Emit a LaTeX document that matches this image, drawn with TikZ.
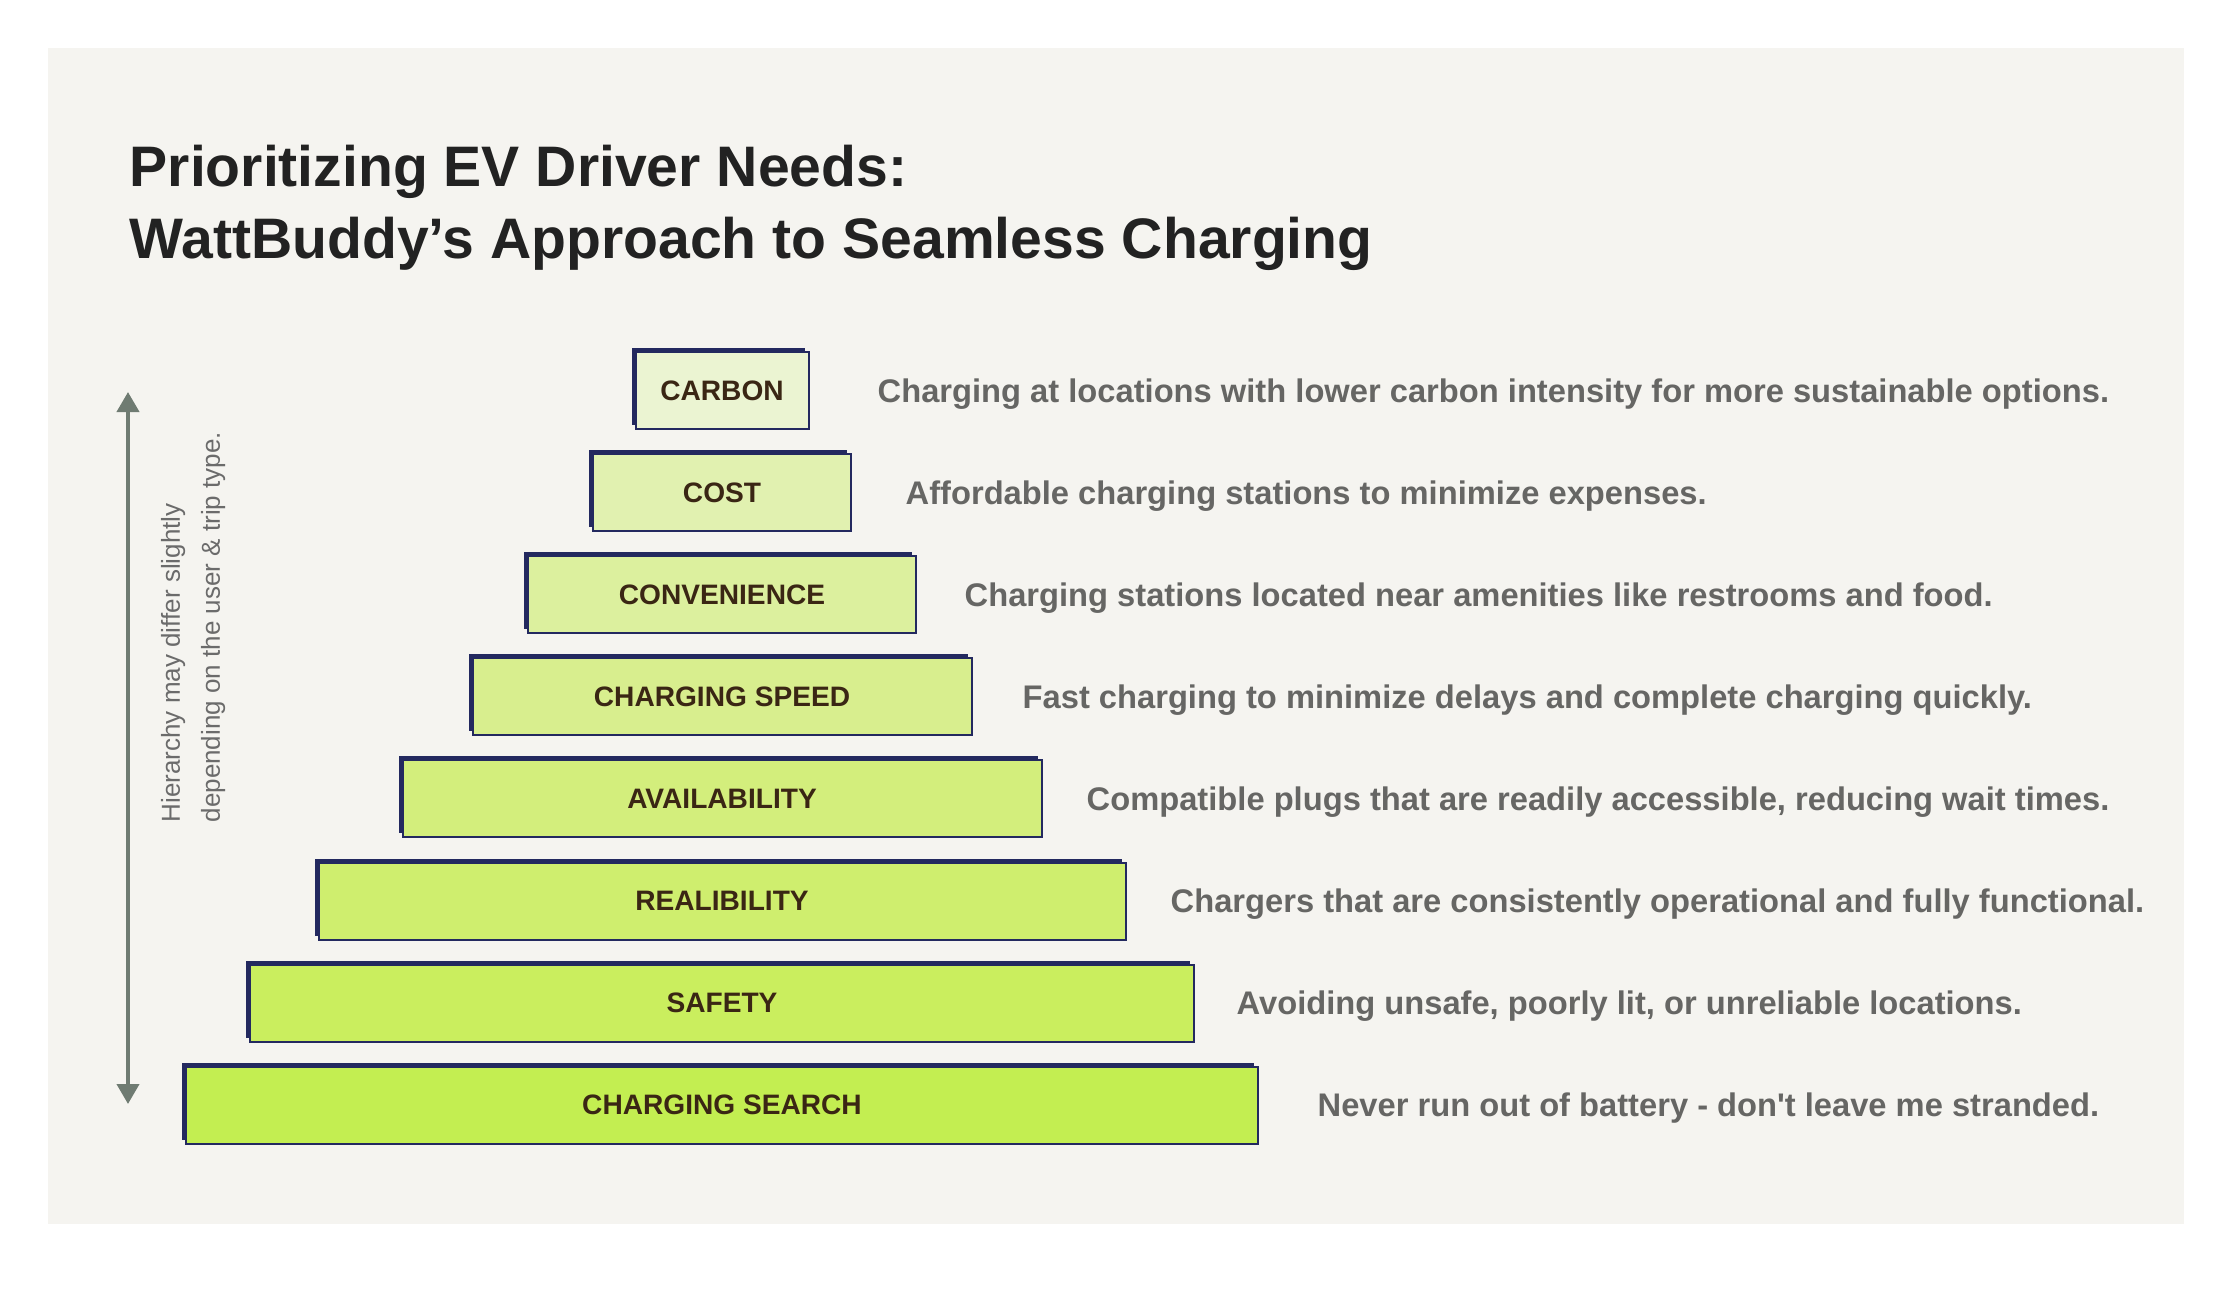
\documentclass[tikz,border=0pt]{standalone}
\usepackage{fontspec}
\setmainfont{Liberation Sans}
\usepackage{tikz}
\usetikzlibrary{arrows.meta}
\usetikzlibrary{shadows}

\definecolor{evnavy}{HTML}{23295F}
\definecolor{pagebg}{HTML}{F5F4F0}
\definecolor{titleink}{HTML}{222222}
\definecolor{lblink}{HTML}{3A2614}
\definecolor{descink}{HTML}{666664}
\definecolor{noteink}{HTML}{6B6B6B}
\definecolor{arrgray}{HTML}{6F7B72}
\definecolor{lvlA}{HTML}{EBF4D2}
\definecolor{lvlB}{HTML}{E1F1B0}
\definecolor{lvlC}{HTML}{DCF09E}
\definecolor{lvlD}{HTML}{D8EE8E}
\definecolor{lvlE}{HTML}{D3EE7C}
\definecolor{lvlF}{HTML}{CFEE6E}
\definecolor{lvlG}{HTML}{CAEE5E}
\definecolor{lvlH}{HTML}{C3EE51}

\begin{document}
\begin{tikzpicture}[
    box/.style={draw=evnavy, line width=0.02cm, inner sep=0pt, minimum height=0.77cm, font=\fontsize{8}{9.6}\selectfont\bfseries, text=lblink,
        drop shadow={shadow xshift=-0.04cm, shadow yshift=0.04cm, fill=evnavy, opacity=1}},
    desc/.style={anchor=base west, inner sep=0pt, font=\fontsize{9.3}{11}\selectfont\bfseries, text=descink},
    ttl/.style={anchor=base west, inner sep=0pt, font=\fontsize{16.25}{20}\selectfont\bfseries, text=titleink},
    arr/.style={{Triangle[width=0.22cm,length=0.2cm]}-{Triangle[width=0.22cm,length=0.2cm]}, line width=0.04cm, arrgray}
]

\fill[white] (0,0) rectangle (22.32,-12.90);
\useasboundingbox (0,0) rectangle (22.32,-12.90);
\fill[pagebg] (0.48,-0.48) rectangle (21.84,-12.24);

% --- TITLE ---
\node[ttl] (title1) at (1.29,-1.865) {Prioritizing EV Driver Needs:};
\node[ttl] (title2) at (1.29,-2.58) {WattBuddy’s Approach to Seamless Charging};

% --- PYRAMID OF NEEDS (top to bottom) ---

% 1. Carbon
\node[box, fill=lvlA, minimum width=1.73cm] (carbon) at (7.22,-3.905) {CARBON};
% 2. Cost
\node[box, fill=lvlB, minimum width=2.58cm] (cost) at (7.22,-4.926) {COST};
% 3. Convenience
\node[box, fill=lvlC, minimum width=3.88cm] (conv) at (7.22,-5.947) {CONVENIENCE};
% 4. Charging speed
\node[box, fill=lvlD, minimum width=4.99cm] (speed) at (7.22,-6.968) {CHARGING SPEED};
% 5. Availability
\node[box, fill=lvlE, minimum width=6.39cm] (avail) at (7.22,-7.989) {AVAILABILITY};
% 6. Reliability
\node[box, fill=lvlF, minimum width=8.07cm] (relia) at (7.22,-9.010) {REALIBILITY};
% 7. Safety
\node[box, fill=lvlG, minimum width=9.44cm] (safety) at (7.22,-10.031) {SAFETY};
% 8. Charging search (base)
\node[box, fill=lvlH, minimum width=10.72cm] (search) at (7.22,-11.052) {CHARGING SEARCH};

% --- DESCRIPTIONS ---
\node[desc] (carbontxt) at (8.77,-4.022) {Charging at locations with lower carbon intensity for more sustainable options.};
\node[desc] (costtxt) at (9.05,-5.043) {Affordable charging stations to minimize expenses.};
\node[desc] (convtxt) at (9.64,-6.064) {Charging stations located near amenities like restrooms and food.};
\node[desc] (speedtxt) at (10.22,-7.085) {Fast charging to minimize delays and complete charging quickly.};
\node[desc] (availtxt) at (10.86,-8.106) {Compatible plugs that are readily accessible, reducing wait times.};
\node[desc] (reliatxt) at (11.70,-9.127) {Chargers that are consistently operational and fully functional.};
\node[desc] (safetytxt) at (12.36,-10.148) {Avoiding unsafe, poorly lit, or unreliable locations.};
\node[desc] (searchtxt) at (13.17,-11.169) {Never run out of battery - don\textquotesingle t leave me stranded.};

% --- HIERARCHY ARROW ---
\coordinate (uptip) at (1.28,-3.92);
\coordinate (downtip) at (1.28,-11.04);
\draw[arr] (downtip) -- (uptip);

\node[rotate=90, anchor=south west, inner sep=0pt, align=left, text=noteink, font=\fontsize{7.4}{11.4}\selectfont] (note) at (2.26,-8.23)
{Hierarchy may differ slightly\\depending on the user \& trip type.};

\end{tikzpicture}
\end{document}
